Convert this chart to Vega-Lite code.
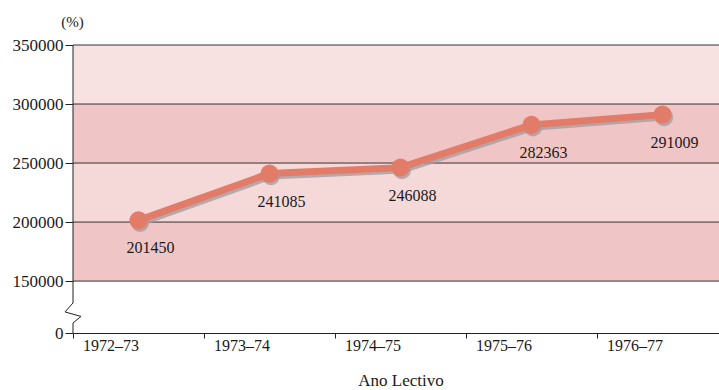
{
  "$schema": "https://vega.github.io/schema/vega-lite/v6.json",
  "width": 646,
  "height": 288,
  "autosize": {"type": "none"},
  "padding": {"left": 73, "top": 45, "right": 0, "bottom": 57},
  "background": "white",
  "config": {
    "view": {"stroke": null},
    "font": "Liberation Serif, serif",
    "axis": {"labelFont": "Liberation Serif, serif", "titleFont": "Liberation Serif, serif", "labelColor": "#1a1a1a", "titleColor": "#1a1a1a", "titleFontWeight": "normal", "domainColor": "#222", "tickColor": "#222"},
    "text": {"font": "Liberation Serif, serif"}
  },
  "datasets": {
    "pts": [
      {"ano": "1972–73", "v": 201450},
      {"ano": "1973–74", "v": 241085},
      {"ano": "1974–75", "v": 246088},
      {"ano": "1975–76", "v": 282363},
      {"ano": "1976–77", "v": 291009}
    ],
    "bands": [
      {"lo": 150000, "hi": 200000, "t": "a"},
      {"lo": 200000, "hi": 250000, "t": "b"},
      {"lo": 250000, "hi": 300000, "t": "a"},
      {"lo": 300000, "hi": 350000, "t": "c"}
    ],
    "grid": [{"v": 150000}, {"v": 200000}, {"v": 250000}, {"v": 300000}, {"v": 350000}],
    "ax": [{"lo": 106000, "hi": 114500}, {"lo": 131400, "hi": 350000}],
    "brk": [{"ano": "1972–73", "v": 123000}]
  },
  "layer": [
    {
      "data": {"name": "bands"},
      "mark": {"type": "rect"},
      "encoding": {
        "y": {"field": "lo", "type": "quantitative", "scale": {"domain": [106000, 350000], "nice": false, "zero": false},
          "axis": {"title": "(%)", "titleAngle": 0, "titleAlign": "center", "titleBaseline": "middle", "titleX": -1, "titleY": -24, "titleFontSize": 15,
            "values": [106000, 150000, 200000, 250000, 300000, 350000], "labelExpr": "datum.value < 120000 ? '0' : datum.value",
            "labelFontSize": 17, "tickSize": 8, "labelPadding": 2, "domain": false, "grid": false}},
        "y2": {"field": "hi"},
        "color": {"field": "t", "type": "nominal", "legend": null, "scale": {"domain": ["a", "b", "c"], "range": ["#efc5c5", "#f5d9d9", "#f8e1e1"]}}
      }
    },
    {
      "data": {"name": "grid"},
      "mark": {"type": "rule", "color": "#333", "strokeWidth": 1},
      "encoding": {"y": {"field": "v", "type": "quantitative", "title": "(%)"}}
    },
    {
      "data": {"name": "ax"},
      "mark": {"type": "rule", "color": "#222", "strokeWidth": 1},
      "encoding": {
        "x": {"datum": "1972–73", "type": "ordinal", "bandPosition": 0, "title": "Ano Lectivo"},
        "y": {"field": "lo", "type": "quantitative", "title": "(%)"},
        "y2": {"field": "hi"}
      }
    },
    {
      "data": {"name": "brk"},
      "mark": {"type": "point", "shape": "M0,-1 L-0.8,-0.1 L0.8,0.35 L0,1", "filled": false, "stroke": "#222", "strokeWidth": 1, "size": 400, "opacity": 1},
      "encoding": {
        "x": {"field": "ano", "type": "ordinal", "bandPosition": 0, "title": "Ano Lectivo"},
        "y": {"field": "v", "type": "quantitative", "title": "(%)"}
      }
    },
    {
      "data": {"name": "pts"},
      "mark": {"type": "line", "color": "#a89c9f", "strokeWidth": 7, "xOffset": 1.5, "yOffset": 2.5, "opacity": 0.8},
      "encoding": {
        "x": {"field": "ano", "type": "ordinal", "title": "Ano Lectivo",
          "scale": {"range": [0, 655], "paddingInner": 0, "paddingOuter": 0},
          "axis": {"labelAngle": 0, "labelFontSize": 16, "tickSize": 5, "labelPadding": 7, "tickBand": "extent", "titleFontSize": 17, "titlePadding": 19, "grid": false, "domain": true}},
        "y": {"field": "v", "type": "quantitative", "title": "(%)"}
      }
    },
    {
      "data": {"name": "pts"},
      "mark": {"type": "line", "color": "#e27c69", "strokeWidth": 7},
      "encoding": {
        "x": {"field": "ano", "type": "ordinal", "title": "Ano Lectivo"},
        "y": {"field": "v", "type": "quantitative", "title": "(%)"}
      }
    },
    {
      "data": {"name": "pts"},
      "mark": {"type": "circle", "color": "#a89c9f", "size": 330, "opacity": 0.8, "xOffset": 1.5, "yOffset": 2.5},
      "encoding": {
        "x": {"field": "ano", "type": "ordinal", "title": "Ano Lectivo"},
        "y": {"field": "v", "type": "quantitative", "title": "(%)"}
      }
    },
    {
      "data": {"name": "pts"},
      "mark": {"type": "circle", "color": "#e27c69", "size": 330, "opacity": 1},
      "encoding": {
        "x": {"field": "ano", "type": "ordinal", "title": "Ano Lectivo"},
        "y": {"field": "v", "type": "quantitative", "title": "(%)"}
      }
    },
    {
      "data": {"name": "pts"},
      "mark": {"type": "text", "fontSize": 16, "font": "Liberation Serif, serif", "color": "#1a1a1a", "dx": 12, "dy": 28, "baseline": "middle", "align": "center"},
      "encoding": {
        "x": {"field": "ano", "type": "ordinal", "title": "Ano Lectivo"},
        "y": {"field": "v", "type": "quantitative", "title": "(%)"},
        "text": {"field": "v", "type": "quantitative", "format": "d"}
      }
    }
  ]
}
